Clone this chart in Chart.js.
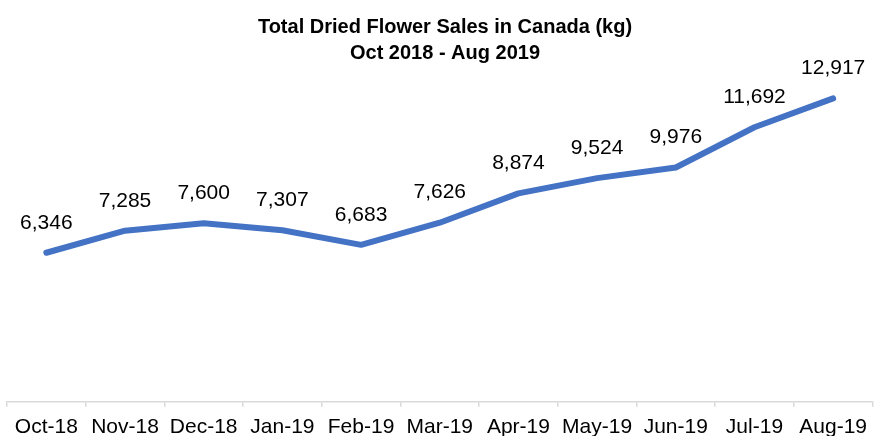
<!DOCTYPE html>
<html>
<head>
<meta charset="utf-8">
<script src="https://cdn.jsdelivr.net/npm/chart.js@4.4.1/dist/chart.umd.min.js"></script>
<style>
	html, body { margin: 0; padding: 0; background: #fff; overflow: hidden; }
	#wrap { position: relative; width: 875px; height: 448px; }
</style>
</head>
<body>
<div id="wrap"><canvas id="chart"></canvas></div>
<script>
	'use strict';
	const months = ['Oct-18', 'Nov-18', 'Dec-18', 'Jan-19', 'Feb-19', 'Mar-19', 'Apr-19', 'May-19', 'Jun-19', 'Jul-19', 'Aug-19'];
	const salesKg = [6346, 7285, 7600, 7307, 6683, 7626, 8874, 9524, 9976, 11692, 12917];
	const titleLines = ['Total Dried Flower Sales in Canada (kg)', 'Oct 2018 - Aug 2019'];

	const FONT = "'Liberation Sans', Arial, sans-serif";

	// draws the value above each point, like Excel data labels
	const valueLabels = {
		id: 'valueLabels',
		afterDatasetsDraw(chart) {
			const ctx = chart.ctx;
			const meta = chart.getDatasetMeta(0);
			const data = chart.data.datasets[0].data;
			ctx.save();
			ctx.font = '21px ' + FONT;
			ctx.fillStyle = '#000';
			ctx.textAlign = 'center';
			ctx.textBaseline = 'middle';
			meta.data.forEach((pt, i) => {
				ctx.fillText(data[i].toLocaleString('en-US'), pt.x, pt.y - 30);
			});
			ctx.restore();
		}
	};

	// the title in the reference is centred on the whole page, not on the padded box
	const centreTitle = {
		id: 'centreTitle',
		afterLayout(chart) {
			if (chart.titleBlock) {
				chart.titleBlock.left = 15;
				chart.titleBlock.right = 875;
			}
		}
	};

	new Chart(document.getElementById('chart'), {
		type: 'line',
		data: {
			labels: months,
			datasets: [{
				data: salesKg,
				borderColor: '#4472C4',
				borderWidth: 6,
				borderCapStyle: 'round',
				borderJoinStyle: 'round',
				pointRadius: 0,
				tension: 0,
				fill: false
			}]
		},
		options: {
			responsive: true,
			maintainAspectRatio: false,
			animation: false,
			layout: { padding: { left: 7, right: 0, top: 0, bottom: 0 } },
			plugins: {
				legend: { display: false },
				tooltip: { enabled: false },
				title: {
					display: true,
					text: titleLines,
					color: '#000',
					font: { family: FONT, size: 20, weight: 'bold', lineHeight: 1.3 },
					padding: { top: 14, bottom: 7 }
				}
			},
			scales: {
				x: {
					offset: true,
					grid: {
						offset: true,
						drawOnChartArea: false,
						drawTicks: true,
						tickLength: 5,
						color: '#d9d9d9',
						lineWidth: 1.5
					},
					border: { display: true, color: '#d9d9d9', width: 1.5 },
					ticks: {
						color: '#000',
						padding: 8,
						maxRotation: 0,
						autoSkip: false,
						font: { family: FONT, size: 21 }
					}
				},
				y: {
					display: false,
					min: 0,
					max: 14000
				}
			}
		},
		plugins: [valueLabels, centreTitle]
	});
</script>
</body>
</html>
